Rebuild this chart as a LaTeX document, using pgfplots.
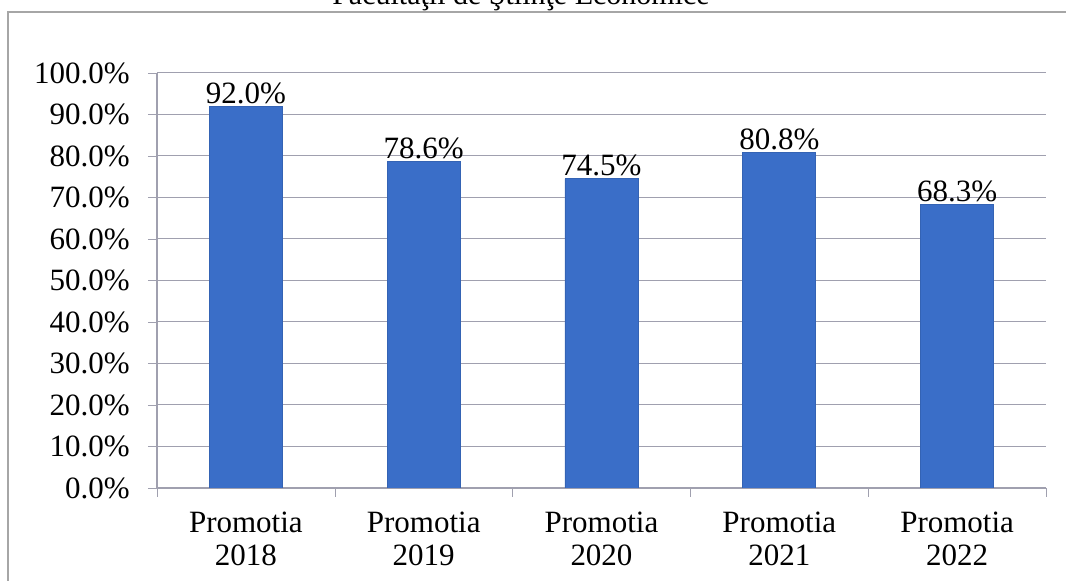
\documentclass[border=0pt]{standalone}
\usepackage{pgfplots}
\pgfplotsset{compat=1.18}
\usepackage{fontspec}
\setmainfont{Liberation Serif}
\definecolor{barblue}{RGB}{58,110,200}
\definecolor{gridgray}{RGB}{160,160,175}

\begin{document}
\begin{tikzpicture}
\useasboundingbox (-78.5pt,-46.5pt) rectangle (454.5pt,244pt);
\clip (-78.5pt,-46.5pt) rectangle (454.5pt,244pt);
\draw[gray!70, line width=0.6pt] (-74.5pt,-80pt) rectangle (500pt,238pt);
\node[font=\fontsize{15}{18}\selectfont, anchor=base] at (182pt,241.5pt) {Facultăţii de Ştiinţe Economice};
\begin{axis}[
    at={(0,0)}, anchor=south west,
    scale only axis,
    width=444.5pt, height=207.5pt,
    ybar, bar width=36.5pt,
    xmin=-0.5, xmax=4.5,
    ymin=0, ymax=100,
    xtick={0,1,2,3,4},
    xticklabels={Promotia\\2018,Promotia\\2019,Promotia\\2020,Promotia\\2021,Promotia\\2022},
    minor xtick={-0.5,0.5,1.5,2.5,3.5,4.5},
    major x tick style={draw=none},
    xtick style={gridgray},
    minor tick length=4.5pt,
    ytick={0,10,...,100},
    major tick length=4.5pt,
    tick align=outside,
    tick pos=left,
    ymajorgrids,
    grid style={gridgray, line width=0.5pt},
    axis x line*=bottom,
    axis y line*=left,
    axis line style={gridgray, line width=0.6pt},
    y axis line style={-},
    x axis line style={-},
    ytick style={gridgray},
    xticklabel style={align=center, font=\fontsize{15.5}{16.5}\selectfont, yshift=-4pt},
    yticklabel style={font=\fontsize{15.5}{18}\selectfont, inner sep=0pt, xshift=-9pt},
    yticklabel={\pgfmathprintnumber[fixed,fixed zerofill,precision=1]{\tick}\%},
    /pgf/number format/assume math mode=true,
    nodes near coords={\pgfmathprintnumber[fixed,fixed zerofill,precision=1]{\pgfplotspointmeta}\%},
    every node near coord/.append style={font=\fontsize{15.5}{18}\selectfont, black, inner sep=1pt},
]
\addplot[fill=barblue, draw=barblue!90!black, bar shift=0pt]
    coordinates {(0,92.0) (1,78.6) (2,74.5) (3,80.8) (4,68.3)};
\end{axis}
\end{tikzpicture}
\end{document}
